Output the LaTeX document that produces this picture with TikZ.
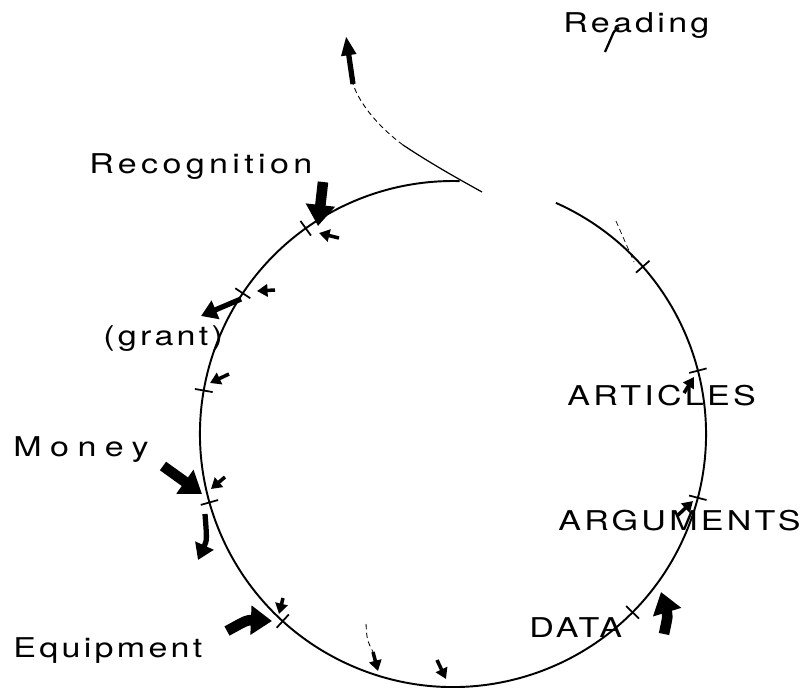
\documentclass[tikz,border=0pt]{standalone}
\usepackage{fontspec}
\usepackage{tikz}
\usetikzlibrary{arrows.meta}
\newfontfamily\labfont{TeX Gyre Heros}[FakeStretch=1.25, LetterSpace=12]
\newfontfamily\widefont{TeX Gyre Heros}[FakeStretch=1.25, LetterSpace=31]
\newfontfamily\recfont{TeX Gyre Heros}[FakeStretch=1.25, LetterSpace=16]

\begin{document}
\begin{tikzpicture}[x=0.02cm, y=-0.02cm,
    ring/.style={line width=1.1pt},
    tickmark/.style={line width=1pt},
    fat/.style={line width=6pt, -{Triangle[length=12pt,width=16pt]}},
    midarrow/.style={line width=3pt, -{Triangle[length=9pt,width=11pt]}},
    small/.style={line width=2pt, -{Triangle[length=6pt,width=7pt]}},
    lab/.style={font={\labfont\fontsize{15.5}{18}\selectfont}, inner sep=0pt, anchor=base west}]
        \useasboundingbox (0,0) rectangle (802,687);

        % Circle
        \coordinate (C) at (453,434);
        \draw[ring] (C) ++(-66:253) coordinate (R0)
            arc[start angle=-66, end angle=271.5, radius=253] coordinate (J);

        % Ticks on the circle
        \foreach \a in {234.4, 213.8, 189.9, 164.3, 132.3, 44.8, 14.6, -14.5, -41.4}
            \draw[tickmark] (C) ++(\a:244) -- ++(\a:18);

        % Loop out of the top
        \draw[line width=0.7pt] (482,192) .. controls (455,177) and (430,163) .. (403,145);
        \draw[line width=0.5pt, densely dashed] (403,145) .. controls (380,128) and (360,105) .. (353,84);
        \draw[line width=3pt, -{Triangle[length=11pt,width=8pt]}] (353,84) -- (346,36);
        \draw[line width=0.4pt, densely dashed] (616,221) -- (634,262);

        % Labels
        \node[lab] (reading) at (563,32) {Reading};
        \node[lab, font={\recfont\fontsize{15.5}{18}\selectfont}] (recognition) at (89,173) {Recognition};
        \node[lab] (grant) at (103,345) {(grant)};
        \node[lab, font={\widefont\fontsize{15.5}{18}\selectfont}] (money) at (13,456) {Money};
        \node[lab] (equipment) at (13,657) {Equipment};
        \node[lab] (data) at (529,637) {DATA};
        \node[lab] (arguments) at (558,530) {ARGUMENTS};
        \node[lab] (articles) at (567,405) {ARTICLES};
        \draw[line width=1.3pt] (605,52) -- (612,36) .. controls (614,31) .. (619,28);

        % Arrows, left side
        \draw[fat] (323,182) -- (318,226);
        \draw[small] (339,238) -- (319,233);
        \draw[small] (275,290) -- (257,291);
        \draw[midarrow] (241,299) -- (201,316);
        \draw[small] (229,374) -- (210,383);
        \draw[fat] (163,466) -- (202,494);
        \draw[small] (225,477) -- (211,489);
        \draw[midarrow] (205,514) .. controls (207,540) .. (198,560);
        \draw[fat] (227,631) .. controls (247,620) .. (272,621);
        \draw[small] (283,598) -- (279,614);

        % Arrows, bottom and right
        \draw[line width=0.5pt, densely dashed] (366,624) .. controls (367,640) .. (373,652);
        \draw[small] (373,652) -- (378,671);
        \draw[small] (437,660) -- (446,679);
        \draw[fat] (664,634) .. controls (668,615) .. (661,592);
        \draw[small] (677,516) -- (693,501);
        \draw[small] (684,393) -- (694,377);
    \end{tikzpicture}
\end{document}
